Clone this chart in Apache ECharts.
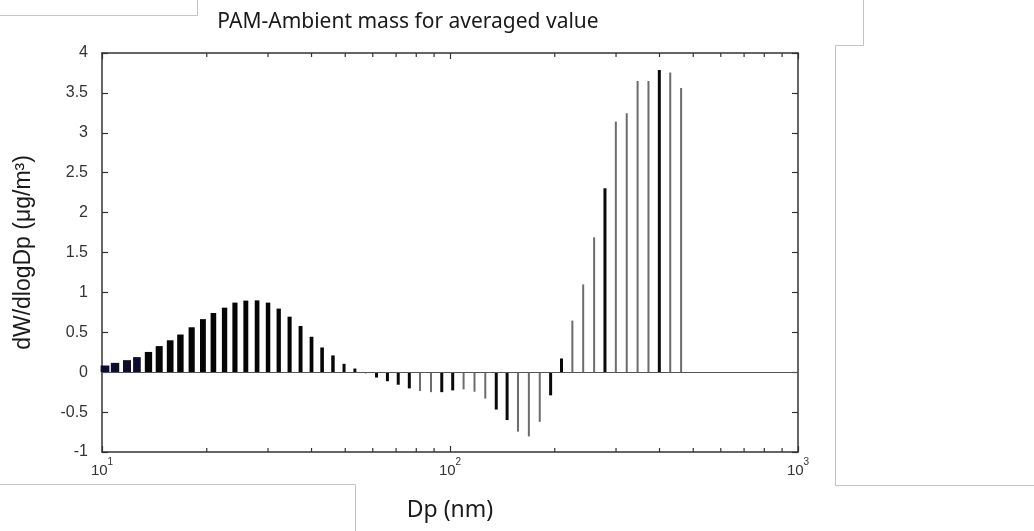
<!DOCTYPE html>
<html>
<head>
<meta charset="utf-8">
<script src="https://cdn.jsdelivr.net/npm/echarts@6/dist/echarts.min.js"></script>
<style>
  html, body { margin: 0; padding: 0; background: #ffffff; }
  #chart { width: 1034px; height: 531px; }
</style>
</head>
<body>
<div id="chart"></div>
<script>
// Size-bin midpoints (nm), 32 channels per decade
const diameters = [
  10.2, 10.9, 11.8, 12.6, 13.6, 14.6, 15.7, 16.8, 18.1, 19.5,
  20.9, 22.5, 24.1, 25.9, 27.9, 30.0, 32.2, 34.6, 37.2, 40.0,
  42.9, 46.1, 49.6, 53.3, 57.3, 61.5, 66.1, 71.0, 76.4, 82.0,
  88.2, 94.7, 101.8, 109.4, 117.6, 126.3, 135.8, 145.9, 156.8, 168.5,
  181.1, 194.6, 209.1, 224.7, 241.4, 259.5, 278.8, 299.6, 322.0, 346.0,
  371.8, 399.5, 429.4, 461.4
];

// dW/dlogDp (ug/m3), averaged PAM minus ambient
const massDiff = [
  0.084, 0.117, 0.151, 0.189, 0.254, 0.327, 0.400, 0.472, 0.563, 0.665,
  0.742, 0.809, 0.872, 0.897, 0.900, 0.872, 0.797, 0.696, 0.579, 0.444,
  0.310, 0.210, 0.105, 0.046, -0.015, -0.067, -0.113, -0.157, -0.203, -0.235,
  -0.250, -0.250, -0.228, -0.216, -0.245, -0.330, -0.468, -0.600, -0.745, -0.805,
  -0.622, -0.290, 0.172, 0.647, 1.100, 1.690, 2.305, 3.140, 3.245, 3.650,
  3.650, 3.787, 3.755, 3.562
];

// Axis ticks
const xMajorTicks = [10, 100, 1000];
const xMinorTicks = [20, 30, 40, 50, 60, 70, 80, 90, 200, 300, 400, 500, 600, 700, 800, 900];
const yMin = -1, yMax = 4, yStep = 0.5;

const axisColor = '#333333';
const labelFont = '"Liberation Sans", Arial, sans-serif';

// bins that render as heavier strokes in the right-hand part of the spectrum
const heavyBins = new Set([49.6, 53.3, 61.5, 66.1, 71.0, 76.4, 94.7, 101.8, 135.8, 145.9, 194.6, 209.1, 278.8, 399.5]);

function barStyle(d) {
  if (d < 48) {
    const w = Math.max(3, 8.4 * Math.pow(10.9 / d, 0.62));
    return { w: w, color: d < 13 ? '#0c0c30' : '#050505' };
  }
  if (heavyBins.has(d)) return { w: 3, color: '#0a0a0a' };
  return { w: 2, color: '#6c6c6c' };
}

const chart = echarts.init(document.getElementById('chart'), null, { renderer: 'canvas' });

const option = {
  backgroundColor: '#ffffff',
  animation: false,
  grid: { left: 102, right: 236, top: 53, bottom: 79, containLabel: false },
  xAxis: [
    {
      type: 'log', logBase: 10, min: xMajorTicks[0], max: xMajorTicks[xMajorTicks.length - 1],
      position: 'bottom',
      name: 'Dp (nm)', nameLocation: 'middle', nameGap: 47,
      nameTextStyle: { fontFamily: '"Noto Sans", sans-serif', fontSize: 23, color: '#1a1a1a' },
      axisLine: { show: true, onZero: false, lineStyle: { color: axisColor, width: 1.5 } },
      axisTick: { show: true, inside: true, length: 6, lineStyle: { color: axisColor, width: 1.2 } },
      splitLine: { show: false },
      axisLabel: {
        margin: 5,
        formatter: function (v) {
          return '{b|10}{s|' + Math.round(Math.log10(v)) + '}';
        },
        rich: {
          b: { fontFamily: labelFont, fontSize: 15, color: '#333', lineHeight: 21, verticalAlign: 'bottom' },
          s: { fontFamily: labelFont, fontSize: 10, color: '#333', lineHeight: 21, verticalAlign: 'top' }
        }
      }
    },
    {
      type: 'log', logBase: 10, min: xMajorTicks[0], max: xMajorTicks[xMajorTicks.length - 1],
      position: 'top',
      axisLine: { show: true, onZero: false, lineStyle: { color: axisColor, width: 1.5 } },
      axisTick: { show: true, inside: true, length: 6, lineStyle: { color: axisColor, width: 1.2 } },
      axisLabel: { show: false },
      splitLine: { show: false }
    }
  ],
  yAxis: [
    {
      type: 'value', min: yMin, max: yMax, interval: yStep, position: 'left',
      name: 'dW/dlogDp (\u03bcg/m\u00b3)', nameLocation: 'middle', nameGap: 67, nameRotate: 90,
      nameTextStyle: { fontFamily: labelFont, fontSize: 23, color: '#1a1a1a' },
      axisLine: { show: true, onZero: false, lineStyle: { color: axisColor, width: 1.5 } },
      axisTick: { show: true, inside: true, length: 6, lineStyle: { color: axisColor, width: 1.2 } },
      axisLabel: { fontFamily: labelFont, fontSize: 16, color: '#333', margin: 14 },
      splitLine: { show: false }
    },
    {
      type: 'value', min: yMin, max: yMax, interval: yStep, position: 'right',
      axisLine: { show: true, onZero: false, lineStyle: { color: axisColor, width: 1.5 } },
      axisTick: { show: true, inside: true, length: 6, lineStyle: { color: axisColor, width: 1.2 } },
      axisLabel: { show: false },
      splitLine: { show: false }
    }
  ],
  graphic: [
    {
      type: 'text', x: 408, y: 22, silent: true,
      style: {
        text: 'PAM-Ambient mass for averaged value',
        font: '21px "Noto Sans", sans-serif', fill: '#1a1a1a',
        textAlign: 'center', textVerticalAlign: 'middle', align: 'center', verticalAlign: 'middle'
      }
    },
    { type: 'polyline', silent: true, shape: { points: [[0, 15.5], [197.5, 15.5], [197.5, 0]] }, style: { stroke: '#c4c4c4', lineWidth: 1, fill: null } },
    { type: 'polyline', silent: true, shape: { points: [[863.5, 0], [863.5, 45.5], [835.5, 45.5], [835.5, 485.5], [1034, 485.5]] }, style: { stroke: '#c4c4c4', lineWidth: 1, fill: null } },
    { type: 'polyline', silent: true, shape: { points: [[0, 484.5], [355.5, 484.5], [355.5, 531]] }, style: { stroke: '#c4c4c4', lineWidth: 1, fill: null } }
  ],
  series: [
    {
      // size-distribution bars from the zero baseline
      type: 'custom',
      name: 'dW/dlogDp',
      xAxisIndex: 0, yAxisIndex: 0,
      encode: { x: 0, y: 1 },
      data: diameters.map(function (d, i) { return [d, massDiff[i]]; }),
      renderItem: function (params, api) {
        const d = api.value(0);
        const v = api.value(1);
        const top = api.coord([d, v]);
        const base = api.coord([d, 0]);
        const s = barStyle(d);
        const y0 = Math.min(top[1], base[1]);
        const h = Math.max(1, Math.abs(base[1] - top[1]));
        return {
          type: 'rect',
          shape: { x: top[0] - s.w / 2, y: y0, width: s.w, height: h },
          style: { fill: s.color }
        };
      },
      markLine: {
        silent: true, symbol: 'none', label: { show: false },
        lineStyle: { color: '#555555', width: 1.2, type: 'solid' },
        data: [{ yAxis: 0 }]
      },
      z: 3
    },
    {
      // minor log ticks on the bottom and top edges
      type: 'custom',
      name: 'minor ticks',
      xAxisIndex: 0, yAxisIndex: 0,
      encode: { x: 0 },
      data: xMinorTicks.map(function (t) { return [t]; }),
      renderItem: function (params, api) {
        const t = api.value(0);
        const b = api.coord([t, yMin]);
        const u = api.coord([t, yMax]);
        const st = { stroke: axisColor, lineWidth: 1.2 };
        return {
          type: 'group',
          children: [
            { type: 'line', shape: { x1: b[0], y1: b[1], x2: b[0], y2: b[1] - 4 }, style: st },
            { type: 'line', shape: { x1: u[0], y1: u[1], x2: u[0], y2: u[1] + 4 }, style: st }
          ]
        };
      },
      z: 4
    }
  ]
};

chart.setOption(option);
</script>
</body>
</html>
